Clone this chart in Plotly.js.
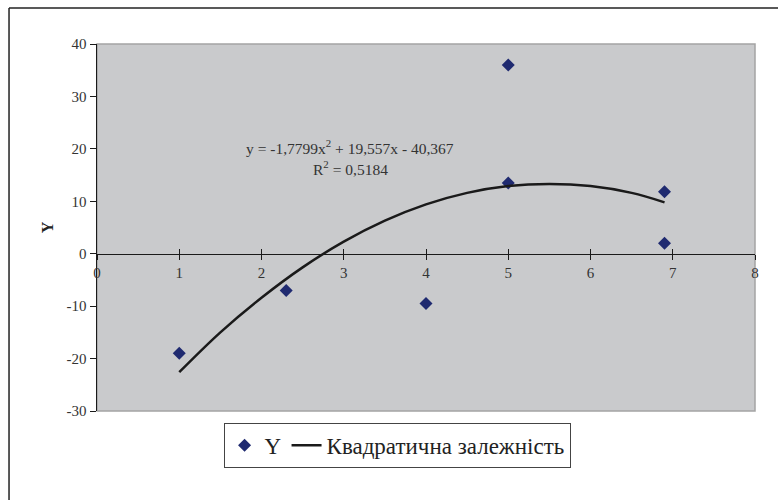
<!DOCTYPE html>
<html>
<head>
<meta charset="utf-8">
<script src="https://cdn.plot.ly/plotly-3.0.1.min.js"></script>
<style>html,body{margin:0;padding:0;background:#fff;}#chart{width:778px;height:500px;}</style>
</head>
<body>
<div id="chart"></div>
<script>
// Observed data points
const pointsX = [1, 2.3, 4, 5, 5, 6.9, 6.9];
const pointsY = [-19, -7, -9.5, 36, 13.5, 11.8, 2];
// Trend curve values
const trendX = [1, 1.5, 2, 2.5, 3, 3.5, 4, 4.5, 5, 5.5, 6, 6.5, 6.9];
const trendY = [-22.6, -15.0, -8.4, -2.6, 2.3, 6.3, 9.4, 11.6, 12.9, 13.3, 12.9, 11.6, 9.8];
const xTicks = [0, 1, 2, 3, 4, 5, 6, 7, 8];
const yTicks = [-30, -20, -10, 0, 10, 20, 30, 40];
const seriesNames = ['Y', 'Квадратична залежність'];
const equationText = 'y = -1,7799x<sup>2</sup> + 19,557x - 40,367';
const r2Text = 'R<sup>2</sup> = 0,5184';

const serif = 'Liberation Serif';

const traces = [
  {
    x: pointsX, y: pointsY, type: 'scatter', mode: 'markers', name: seriesNames[0],
    marker: {symbol: 'diamond', size: 10, color: '#1f2a70', line: {width: 0}}
  },
  {
    x: trendX, y: trendY, type: 'scatter', mode: 'lines', name: seriesNames[1],
    line: {color: '#1a1a1a', width: 2.5, shape: 'spline'}
  },
  {
    x: [0], y: [0], xaxis: 'x2', yaxis: 'y', mode: 'markers', showlegend: false,
    marker: {opacity: 0}, hoverinfo: 'skip'
  }
];

const layout = {
  width: 778, height: 500,
  margin: {l: 97, r: 23, t: 44, b: 89},
  paper_bgcolor: '#ffffff',
  plot_bgcolor: '#c9cacc',
  font: {family: serif, size: 14, color: '#333'},
  showlegend: true,
  xaxis: {
    range: [0, 8], tickvals: xTicks, ticktext: xTicks.map(String),
    showgrid: false, zeroline: false,
    anchor: 'free', position: 30/70,
    showline: true, linecolor: '#1a1a1a', linewidth: 1,
    ticks: 'outside', ticklen: 5, tickcolor: '#1a1a1a', tickwidth: 1,
    tickfont: {family: serif, size: 15, color: '#333'},
    fixedrange: true
  },
  xaxis2: {
    range: [0, 8], tickvals: xTicks, overlaying: 'x',
    anchor: 'free', position: 30/70,
    showgrid: false, zeroline: false, showline: false,
    ticks: 'inside', ticklen: 5, tickcolor: '#1a1a1a', tickwidth: 1,
    showticklabels: false
  },
  yaxis: {
    range: [-30, 40], tickvals: yTicks, ticktext: yTicks.map(String),
    showgrid: false, zeroline: false,
    showline: true, linecolor: '#1a1a1a', linewidth: 1.5,
    ticks: 'outside', ticklen: 6, tickcolor: '#1a1a1a', tickwidth: 1,
    tickfont: {family: serif, size: 15, color: '#333'},
    title: {text: '<b>Y</b>', font: {family: serif, size: 16, color: '#222'}, standoff: 9}
  },
  legend: {
    orientation: 'h', x: 0.456, xanchor: 'center', y: -0.032, yanchor: 'top',
    bgcolor: '#ffffff', bordercolor: '#444', borderwidth: 1,
    font: {family: serif, size: 23, color: '#222'},
    itemwidth: 30, tracegroupgap: 0
  },
  annotations: [
    {x: 3.08, y: 20.3, xref: 'x', yref: 'y', text: equationText, showarrow: false,
     font: {family: serif, size: 15.5, color: '#333'}},
    {x: 3.08, y: 16.4, xref: 'x', yref: 'y', text: r2Text, showarrow: false,
     font: {family: serif, size: 15.5, color: '#333'}}
  ],
  shapes: [
    {type: 'rect', xref: 'paper', yref: 'paper', x0: 0, x1: 1, y0: 0, y1: 1,
     line: {color: '#a4a4a4', width: 1.5}, layer: 'below'},
    {type: 'line', xref: 'paper', yref: 'paper', x0: -0.1337, x1: 1.04, y0: 1.098, y1: 1.098,
     line: {color: '#222', width: 1.5}},
    {type: 'line', xref: 'paper', yref: 'paper', x0: -0.1337, x1: -0.1337, y0: 1.098, y1: -0.25,
     line: {color: '#222', width: 1.5}}
  ]
};

Plotly.newPlot('chart', traces, layout, {displayModeBar: false, staticPlot: true});
</script>
</body>
</html>
